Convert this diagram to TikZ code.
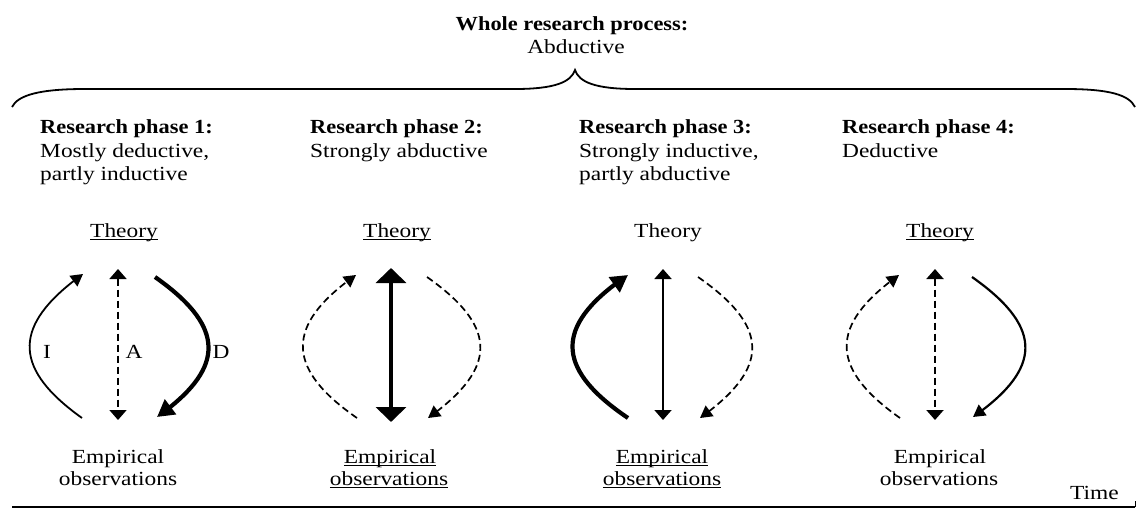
\documentclass[tikz,border=0pt]{standalone}
\usepackage{graphicx}
\usepackage{fontspec}
\setmainfont{Liberation Serif}
\usetikzlibrary{arrows.meta,bending}
\newcommand\myul[1]{\setbox0\hbox{#1}\rlap{\rule[-3pt]{\wd0}{1.2pt}}\box0}
\newcommand\rtx[1]{\scalebox{1.17}[1]{#1}}
\newcommand\btx[1]{\scalebox{1.12}[1]{\bfseries #1}}
\begin{document}
\begin{tikzpicture}[x=1pt,y=-1pt,
  every node/.style={inner sep=0pt, font=\fontsize{20}{24}\selectfont},
  lbl/.style={anchor=base},
  head/.style={anchor=base west},
  sub/.style={anchor=base west},
  ttl/.style={anchor=base},
  lw/.style={line width=1.8pt},
  hw/.style={line width=4.2pt},
  dsh/.style={line width=1.7pt, dash pattern=on 7pt off 4pt},
  tS/.style={-{Triangle[length=12pt,width=13pt]}},
  tB/.style={-{Triangle[length=17pt,width=18pt]}},
  vS/.style={{Triangle[length=10pt,width=17pt]}-{Triangle[length=10pt,width=17pt]}},
  vB/.style={{Triangle[length=15pt,width=30pt]}-{Triangle[length=15pt,width=30pt]}},
]
\useasboundingbox (0,0) rectangle (1137,511);

% title and brace
\node[ttl] (title) at (572,31) {\btx{Whole research process:}};
\node[lbl] (abd) at (576,54) {\rtx{Abductive}};
\coordinate (bl) at (12,107);
\coordinate (bt) at (575,70);
\coordinate (br) at (1135,107);
\draw[line width=1.8pt] (bl) .. controls (18,95) and (40,89) .. (85,89) -- (515,89)
  .. controls (555,89) and (571,82) .. (bt)
  .. controls (579,82) and (595,89) .. (635,89) -- (1065,89)
  .. controls (1110,89) and (1129,95) .. (br);

% headings
\node[head] (h1) at (40,133) {\btx{Research phase 1:}};
\node[sub] (h1b) at (40,157) {\rtx{Mostly deductive,}};
\node[sub] (h1c) at (40,180) {\rtx{partly inductive}};
\node[head] (h2) at (310,133) {\btx{Research phase 2:}};
\node[sub] (h2b) at (310,157) {\rtx{Strongly abductive}};
\node[head] (h3) at (579,133) {\btx{Research phase 3:}};
\node[sub] (h3b) at (579,157) {\rtx{Strongly inductive,}};
\node[sub] (h3c) at (579,180) {\rtx{partly abductive}};
\node[head] (h4) at (842,133) {\btx{Research phase 4:}};
\node[sub] (h4b) at (842,157) {\rtx{Deductive}};

% Theory labels
\node[lbl] (t1) at (124,237) {\rtx{\myul{Theory}}};
\node[lbl] (t2) at (397,237) {\rtx{\myul{Theory}}};
\node[lbl] (t3) at (668,237) {\rtx{Theory}};
\node[lbl] (t4) at (940,237) {\rtx{\myul{Theory}}};

% Empirical labels
\node[lbl] (e1) at (118,463) {\rtx{Empirical}};
\node[lbl] (o1) at (118,485) {\rtx{observations}};
\node[lbl] (e2) at (390,463) {\rtx{\myul{Empirical}}};
\node[lbl] (o2) at (389,485) {\rtx{\myul{observations}}};
\node[lbl] (e3) at (662,463) {\rtx{\myul{Empirical}}};
\node[lbl] (o3) at (662,485) {\rtx{\myul{observations}}};
\node[lbl] (e4) at (940,463) {\rtx{Empirical}};
\node[lbl] (o4) at (939,485) {\rtx{observations}};

% phase 1
\coordinate (p1vt) at (118,269); \coordinate (p1vb) at (118,420);
\coordinate (p1lb) at (82,418); \coordinate (p1lt) at (83,274);
\coordinate (p1rt) at (155,277); \coordinate (p1rb) at (157,417);
\draw[dsh, vS] (p1vt) -- (p1vb);
\draw[lw, tS] (p1lb) .. controls (12,368) and (12,325) .. (p1lt);
\draw[hw, tB] (p1rt) .. controls (226,327) and (226,368) .. (p1rb);
\node (lI) at (47,352) {\rtx{I}};
\node (lA) at (134,352) {\rtx{A}};
\node (lD) at (221,352) {\rtx{D}};

% phase 2
\coordinate (p2vt) at (391,268); \coordinate (p2vb) at (391,422);
\coordinate (p2lb) at (357,418); \coordinate (p2lt) at (356,275);
\coordinate (p2rt) at (427,277); \coordinate (p2rb) at (428,418);
\draw[line width=3.8pt, vB] (p2vt) -- (p2vb);
\draw[dsh, tS] (p2lb) .. controls (285,368) and (285,325) .. (p2lt);
\draw[dsh, tS] (p2rt) .. controls (498,327) and (498,368) .. (p2rb);

% phase 3
\coordinate (p3vt) at (663,269); \coordinate (p3vb) at (663,420);
\coordinate (p3lb) at (628,418); \coordinate (p3lt) at (628,275);
\coordinate (p3rt) at (698,277); \coordinate (p3rb) at (700,418);
\draw[lw, vS] (p3vt) -- (p3vb);
\draw[hw, tB] (p3lb) .. controls (554,368) and (554,325) .. (p3lt);
\draw[dsh, tS] (p3rt) .. controls (770,327) and (770,368) .. (p3rb);

% phase 4
\coordinate (p4vt) at (935,269); \coordinate (p4vb) at (935,420);
\coordinate (p4lb) at (900,418); \coordinate (p4lt) at (899,275);
\coordinate (p4rt) at (972,277); \coordinate (p4rb) at (973,417);
\draw[dsh, line width=2pt, vS] (p4vt) -- (p4vb);
\draw[dsh, tS] (p4lb) .. controls (829,368) and (829,325) .. (p4lt);
\draw[lw, line width=2.2pt, tS] (p4rt) .. controls (1043,327) and (1043,368) .. (p4rb);

% time axis
\node[anchor=base west] (time) at (1070,499) {\rtx{Time}};
\coordinate (ax0) at (12,507);
\coordinate (ax1) at (1135,507);
\coordinate (ax2) at (1135,501);
\draw[line width=2.8pt] (ax0) -- (ax1);
\draw[line width=1pt] (ax1) -- (ax2);
\end{tikzpicture}
\end{document}
